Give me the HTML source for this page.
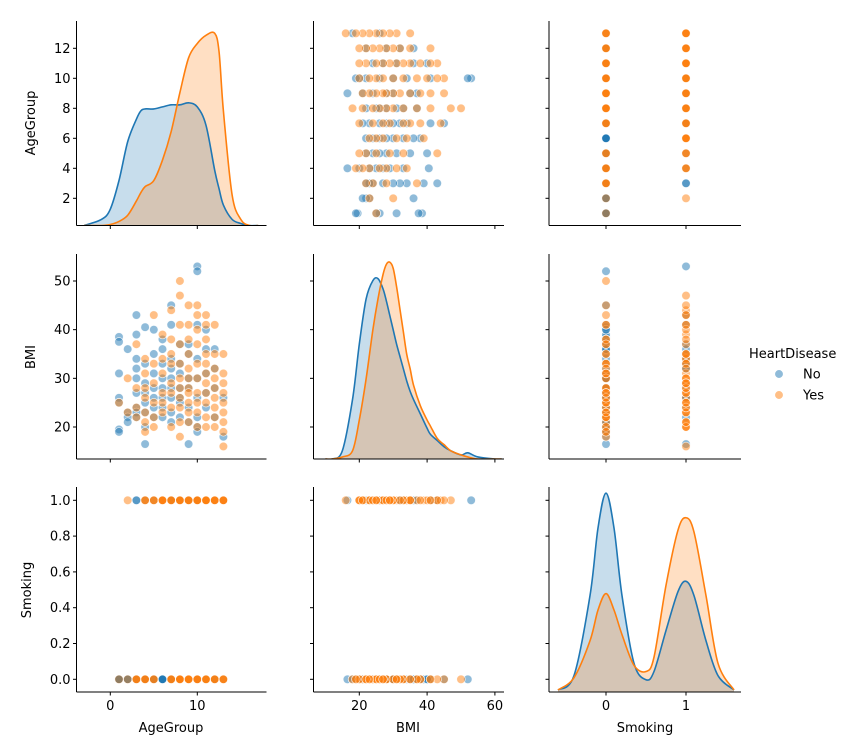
<!DOCTYPE html>
<html><head><meta charset="utf-8"><style>
html,body{margin:0;padding:0;background:#fff;}
svg{display:block;font-family:"DejaVu Sans","Liberation Sans",sans-serif;}
</style></head><body>
<svg id="fig" width="854" height="750" viewBox="0 0 854 750" xmlns="http://www.w3.org/2000/svg"></svg>
<script>
// ---------- data ----------
const ageGroups = [1,2,3,4,5,6,7,8,9,10,11,12,13];
const bmiNo = [
 [38.5,37.5,31,26,25,19.5,19],[36,23,22,21],[43,39,34,32,30,27,24,23,22],
 [40.5,33,29,27,25,23,20,16.5],[40,35,31,28,26,24,22],[38,36,33,30,28,26,24,22],
 [45,41,34,32,30,28,26,23,21],[37,33,31,28,26,25,22],[37,35,30,28,24,21,16.5],
 [53,52,41,34,30,26,22,20,19],[40,36,31,27,24],[36,32,28,22],[18,26]];
const smokeNo = [
 [0,0,0,0,0,0,0],[0,0,0,0],[1,0,1,0,0,0,0,0,0],[0,0,1,0,0,0,0,0],[0,1,0,0,0,0,0],
 [0,0,1,0,0,0,0,0],[0,1,0,1,0,0,1,0,0],[0,1,0,0,1,0,0],[1,0,0,1,0,0,1],
 [1,0,0,1,0,0,1,0,0],[0,1,0,0,1],[0,1,0,0],[0,1]];
const bmiYes = [
 [25],[30,23],[37,28,24,22],[34,31,28,26,23,21,19],[43,33,29,25,22,20],[39,34,31,27,25,23],
 [44,38,35,33,29,27,24,20],[50,47,41,37,33,30,28,26,24,21,18],[45,41,38,35,32,30,28,27,25,23,21],
 [45,43,40,37,33,30,27,25,23,20],[43,41,38,35,33,31,29,27,25,22,20],[41,35,32,30,28,26,24,22,20],
 [35,31,29,27,25,23,21,19,16]];
const smokeYes = [
 [0],[1,0],[0,0,0,0],[1,0,1,0,0,1,0],[1,0,1,0,0,1],[1,1,1,1,1,1],[1,0,1,0,1,0,1,0],
 [0,1,0,1,0,1,0,1,0,1,0],[0,1,0,1,0,1,0,1,0,1,0],[1,0,1,0,1,0,1,0,1,0],
 [1,0,1,0,1,0,1,0,1,0,1],[1,0,1,0,1,0,1,0,1],[1,0,1,0,1,0,1,0,1]];
// KDE curves (density as fraction of panel height)
const kdeAgeX = [-3,-1,0,1,2,3,3.5,4,5,6,7,8,9,10,11,12,12.5,13,14,15,16,17];
const kdeAgeNo = [0,3,8,22,41,52,56,57,57,58,59,59,60,58,49,27,18,10,3,1,0,0];
const kdeAgeYes = [0,0,0.5,2,5,12,16,19,22,32,46,65,82,89,93,94,85,56,15,3,0,0];
const kdeBmiX = [10,12,15,18,20,22,24,25.5,27,28,29,30,31,32,33,34,35,36,38,40,41,43,45,47,50,52,55,60,62];
const kdeBmiNo = [0,0,4,29,56,78,87,88,83,77,70,63,56,50,44,38,33,29,22,15,12,9,6,4,2,3,1,0,0];
const kdeBmiYes = [0,0,1,4,19,39,63,78,90,95,96,93,84,73,62,51,44,36,26,19,16,10,7,4,2,1,0,0,0];
const kdeSmX = [-0.6,-0.4,-0.2,-0.1,0,0.1,0.2,0.35,0.5,0.6,0.75,0.9,1.0,1.1,1.25,1.4,1.6];
const kdeSmNo = [1,8,47,80,97,80,47,14,6,10,30,49,54,47,25,8,1];
const kdeSmYes = [1,7,25,40,48,40,28,13,10,17,52,79,85,78,47,14,1];
const yTicks = [[2,4,6,8,10,12],[20,30,40,50],[0,0.2,0.4,0.6,0.8,1.0]];
const xTicks = [[0,10],[20,40,60],[0,1]];
const varNames = ["AgeGroup","BMI","Smoking"];

// ---------- layout ----------
const BLUE="#1f77b4", ORANGE="#ff7f0e";
const cols=[{x0:76.5,x1:266.5,a:110.3,av:0,k:8.7},{x0:313.5,x1:504,a:359.3,av:20,k:3.39},{x0:549,x1:741,a:606,av:0,k:80}];
const rows=[{y0:21,y1:225.5,a:198.3,av:2,k:-15},{y0:254,y1:459,a:427,av:20,k:-4.867},{y0:487,y1:692,a:679.3,av:0,k:-179}];
const sx=(c,v)=>cols[c].a+(v-cols[c].av)*cols[c].k;
const sy=(r,v)=>rows[r].a+(v-rows[r].av)*rows[r].k;
const NS="http://www.w3.org/2000/svg";
const svg=document.getElementById('fig');
function mk(tag,attrs,parent){const e=document.createElementNS(NS,tag);for(const k in attrs)e.setAttribute(k,attrs[k]);(parent||svg).appendChild(e);return e;}

const recAge=[],recBmi=[],recSm=[],recHd=[];
[[bmiNo,smokeNo,0],[bmiYes,smokeYes,1]].forEach(([B,S,h])=>{
  ageGroups.forEach((a,i)=>{B[i].forEach((b,j)=>{recAge.push(a);recBmi.push(b);recSm.push(S[i][j]);recHd.push(h);});});
});
const vals=[recAge,recBmi,recSm];

function smoothPath(pts){
  let d="M"+pts[0][0]+","+pts[0][1];
  for(let i=0;i<pts.length-1;i++){
    const p0=pts[Math.max(i-1,0)],p1=pts[i],p2=pts[i+1],p3=pts[Math.min(i+2,pts.length-1)];
    const c1=[p1[0]+(p2[0]-p0[0])/6,p1[1]+(p2[1]-p0[1])/6];
    const c2=[p2[0]-(p3[0]-p1[0])/6,p2[1]-(p3[1]-p1[1])/6];
    d+=" C"+c1[0]+","+c1[1]+" "+c2[0]+","+c2[1]+" "+p2[0]+","+p2[1];
  }
  return d;
}
const kdes=[[kdeAgeX,kdeAgeNo,kdeAgeYes],[kdeBmiX,kdeBmiNo,kdeBmiYes],[kdeSmX,kdeSmNo,kdeSmYes]];

for(let r=0;r<3;r++){
  for(let c=0;c<3;c++){
    const g=mk('g',{});
    
    
    const X0=cols[c].x0,X1=cols[c].x1,Y0=rows[r].y0,Y1=rows[r].y1;
    const clipId='clip'+r+c;
    const cp=mk('clipPath',{id:clipId},g);mk('rect',{x:X0,y:Y0-4,width:X1-X0,height:Y1-Y0+4},cp);
    const plot=mk('g',{'clip-path':'url(#'+clipId+')'},g);
    if(r===c){
      const [kx,kn,ky]=kdes[c];
      const series=[[kn,BLUE,'kde-no'],[ky,ORANGE,'kde-yes']];
      const lines=series.map(([arr])=>smoothPath(kx.map((v,i)=>[sx(c,v),Y1-arr[i]/100*(Y1-Y0)])));
      series.forEach(([arr,col,nm],si)=>{
        const x0=sx(c,kx[0]),x1=sx(c,kx[kx.length-1]);
        const f=mk('path',{d:lines[si]+" L"+x1+","+Y1+" L"+x0+","+Y1+" Z",fill:col,'fill-opacity':0.25,stroke:'none'},plot);
        
        
      });
      series.forEach(([arr,col,nm],si)=>{
        const l=mk('path',{d:lines[si],fill:'none',stroke:col,'stroke-width':1.6},plot);
        
        
      });
    } else {
      for(let i=0;i<recAge.length;i++){
        const p=mk('circle',{cx:sx(c,vals[c][i]),cy:sy(r,vals[r][i]),r:4.3,fill:recHd[i]?ORANGE:BLUE,'fill-opacity':0.5,stroke:'#fff','stroke-width':0.7,'stroke-opacity':0.8},plot);
        
        
      }
    }
    mk('line',{x1:X0,y1:Y0,x2:X0,y2:Y1,stroke:'#000','stroke-width':1},g);
    mk('line',{x1:X0,y1:Y1,x2:X1,y2:Y1,stroke:'#000','stroke-width':1},g);
    yTicks[r].forEach(v=>{const y=sy(r,v);mk('line',{x1:X0-3.5,y1:y,x2:X0,y2:y,stroke:'#000'},g);
      if(c===0){const t=mk('text',{x:X0-6,y:y+4.5,'text-anchor':'end','font-size':13,fill:'#000'},g);t.textContent=(r===2?v.toFixed(1):String(v));
        }});
    xTicks[c].forEach(v=>{const x=sx(c,v);mk('line',{x1:x,y1:Y1,x2:x,y2:Y1+3.5,stroke:'#000'},g);
      if(r===2){const t=mk('text',{x:x,y:Y1+18,'text-anchor':'middle','font-size':13,fill:'#000'},g);t.textContent=String(v);
        }});
  }
}
[[35,123],[35,357],[31,590]].forEach(([x,y],r)=>{
  const t=mk('text',{x:x,y:y,'text-anchor':'middle','font-size':13,transform:'rotate(-90 '+x+' '+y+')'});
  t.textContent=varNames[r];
  
  
});
[171,408,645].forEach((x,c)=>{
  const t=mk('text',{x:x,y:732,'text-anchor':'middle','font-size':13});
  t.textContent=varNames[c];
  
  
});
const lg=mk('g',{});


const lt=mk('text',{x:749,y:358,'font-size':13},lg);lt.textContent='HeartDisease';

[['No',BLUE,374],['Yes',ORANGE,395]].forEach(([lab,col,y])=>{
  const e=mk('g',{},lg);
  
  
  mk('circle',{cx:779,cy:y,r:4.3,fill:col,'fill-opacity':0.5,stroke:'#fff','stroke-width':0.7},e);
  const t=mk('text',{x:803,y:y+4.5,'font-size':13},e);t.textContent=lab;
});
</script>
</body></html>
